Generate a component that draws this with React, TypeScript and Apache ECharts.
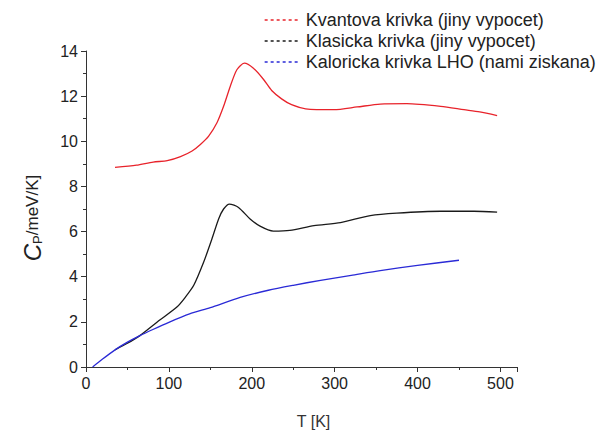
import React, { useEffect, useRef } from "react";
import * as echarts from "echarts";

const seriesNames = [
  "Kvantova krivka (jiny vypocet)",
  "Klasicka krivka (jiny vypocet)",
  "Kaloricka krivka LHO (nami ziskana)",
];

const kvantovaT = [35, 61, 81, 98, 114, 128, 138, 148, 158, 166, 174, 182, 191, 202, 214, 224, 236, 248, 265, 299, 327, 355, 387, 428, 456, 475, 496];
const kvantovaCp = [8.84, 8.94, 9.08, 9.14, 9.32, 9.57, 9.86, 10.23, 10.82, 11.55, 12.43, 13.17, 13.46, 13.24, 12.75, 12.25, 11.88, 11.62, 11.44, 11.4, 11.52, 11.65, 11.67, 11.55, 11.4, 11.3, 11.14];

const klasickaT = [35, 50, 65, 89, 110, 120, 130, 142, 152, 160, 166, 173, 184, 198, 210, 226, 246, 275, 307, 343, 375, 428, 468, 496];
const klasickaCp = [0.76, 1.05, 1.39, 2.08, 2.67, 3.1, 3.62, 4.65, 5.68, 6.56, 7.0, 7.22, 7.07, 6.56, 6.24, 6.02, 6.05, 6.26, 6.4, 6.71, 6.82, 6.9, 6.9, 6.86];

const lhoT = [8, 20, 35, 50, 65, 80, 100, 125, 150, 186, 220, 250, 283, 320, 355, 400, 450];
const lhoCp = [0, 0.35, 0.76, 1.1, 1.39, 1.65, 1.98, 2.35, 2.63, 3.08, 3.4, 3.62, 3.84, 4.06, 4.27, 4.5, 4.73];

const xTicks = [0, 100, 200, 300, 400, 500];
const yTicks = [0, 2, 4, 6, 8, 10, 12, 14];

const colors = ["#e8232b", "#1a1a1a", "#2a2ad6"];

const zip = (xs: number[], ys: number[]) => xs.map((x, i) => [x, ys[i]]);

export default function App() {
  const ref = useRef<HTMLDivElement>(null);
  useEffect(() => {
    if (!ref.current) return;
    const chart = echarts.init(ref.current, null, { renderer: "svg" });
    const font = "'Liberation Sans', Arial, sans-serif";
    const datasets = [zip(kvantovaT, kvantovaCp), zip(klasickaT, klasickaCp), zip(lhoT, lhoCp)];
    chart.setOption({
      animation: false,
      backgroundColor: "#ffffff",
      grid: { left: 86, top: 51, right: 86, bottom: 65, containLabel: false },
      legend: {
        orient: "vertical",
        left: 264,
        top: 11,
        padding: 0,
        itemWidth: 36,
        itemHeight: 14,
        itemGap: 3,
        textStyle: { fontFamily: font, fontSize: 18, color: "#222" },
        data: seriesNames.map((n, i) => ({
          name: n,
          lineStyle: { color: colors[i], type: [3, 3], width: 1.3 },
          itemStyle: { color: "rgba(0,0,0,0)", borderWidth: 0, opacity: 0 },
        })),
      },
      xAxis: {
        type: "value",
        min: 0,
        max: 520,
        interval: 100,
        name: "T [K]",
        nameLocation: "middle",
        nameGap: 46,
        nameTextStyle: { fontFamily: font, fontSize: 16, color: "#333", padding: [0, 0, 0, 24] },
        axisLine: { show: true, onZero: false, lineStyle: { color: "#333", width: 1 } },
        axisTick: { show: true, length: 5, lineStyle: { color: "#333" } },
        minorTick: { show: true, splitNumber: 2, length: 3, lineStyle: { color: "#333" } },
        splitLine: { show: false },
        axisLabel: {
          fontFamily: font,
          fontSize: 16,
          color: "#222",
          margin: 8,
          formatter: (v: number) => (xTicks.includes(v) ? String(v) : ""),
        },
      },
      yAxis: {
        type: "value",
        min: 0,
        max: 14,
        interval: 2,
        name: "{c|C}{p|P}{u|/meV/K]}",
        nameLocation: "middle",
        nameGap: 42,
        nameRotate: 90,
        nameTextStyle: {
          fontFamily: font,
          color: "#222",
          padding: [0, 18, 0, 0],
          rich: {
            c: { fontSize: 24, fontStyle: "italic", fontFamily: font, color: "#222" },
            p: { fontSize: 13, fontFamily: font, color: "#222", verticalAlign: "bottom", padding: [10, 0, 0, 0] },
            u: { fontSize: 17, fontFamily: font, color: "#222" },
          },
        },
        axisLine: { show: true, lineStyle: { color: "#333", width: 1 } },
        axisTick: { show: true, length: 5, lineStyle: { color: "#333" } },
        minorTick: { show: true, splitNumber: 2, length: 3, lineStyle: { color: "#333" } },
        splitLine: { show: false },
        axisLabel: {
          fontFamily: font,
          fontSize: 16,
          color: "#222",
          margin: 8,
          formatter: (v: number) => (yTicks.includes(v) ? String(v) : ""),
        },
      },
      series: seriesNames.map((n, i) => ({
        name: n,
        type: "line",
        data: datasets[i],
        smooth: 0.25,
        symbol: "none",
        color: colors[i],
        lineStyle: { color: colors[i], width: 1.3 },
        itemStyle: { color: colors[i] },
      })),
    });
    return () => chart.dispose();
  }, []);
  return <div ref={ref} style={{ width: 603, height: 434, position: "absolute", left: 0, top: 0 }} />;
}
